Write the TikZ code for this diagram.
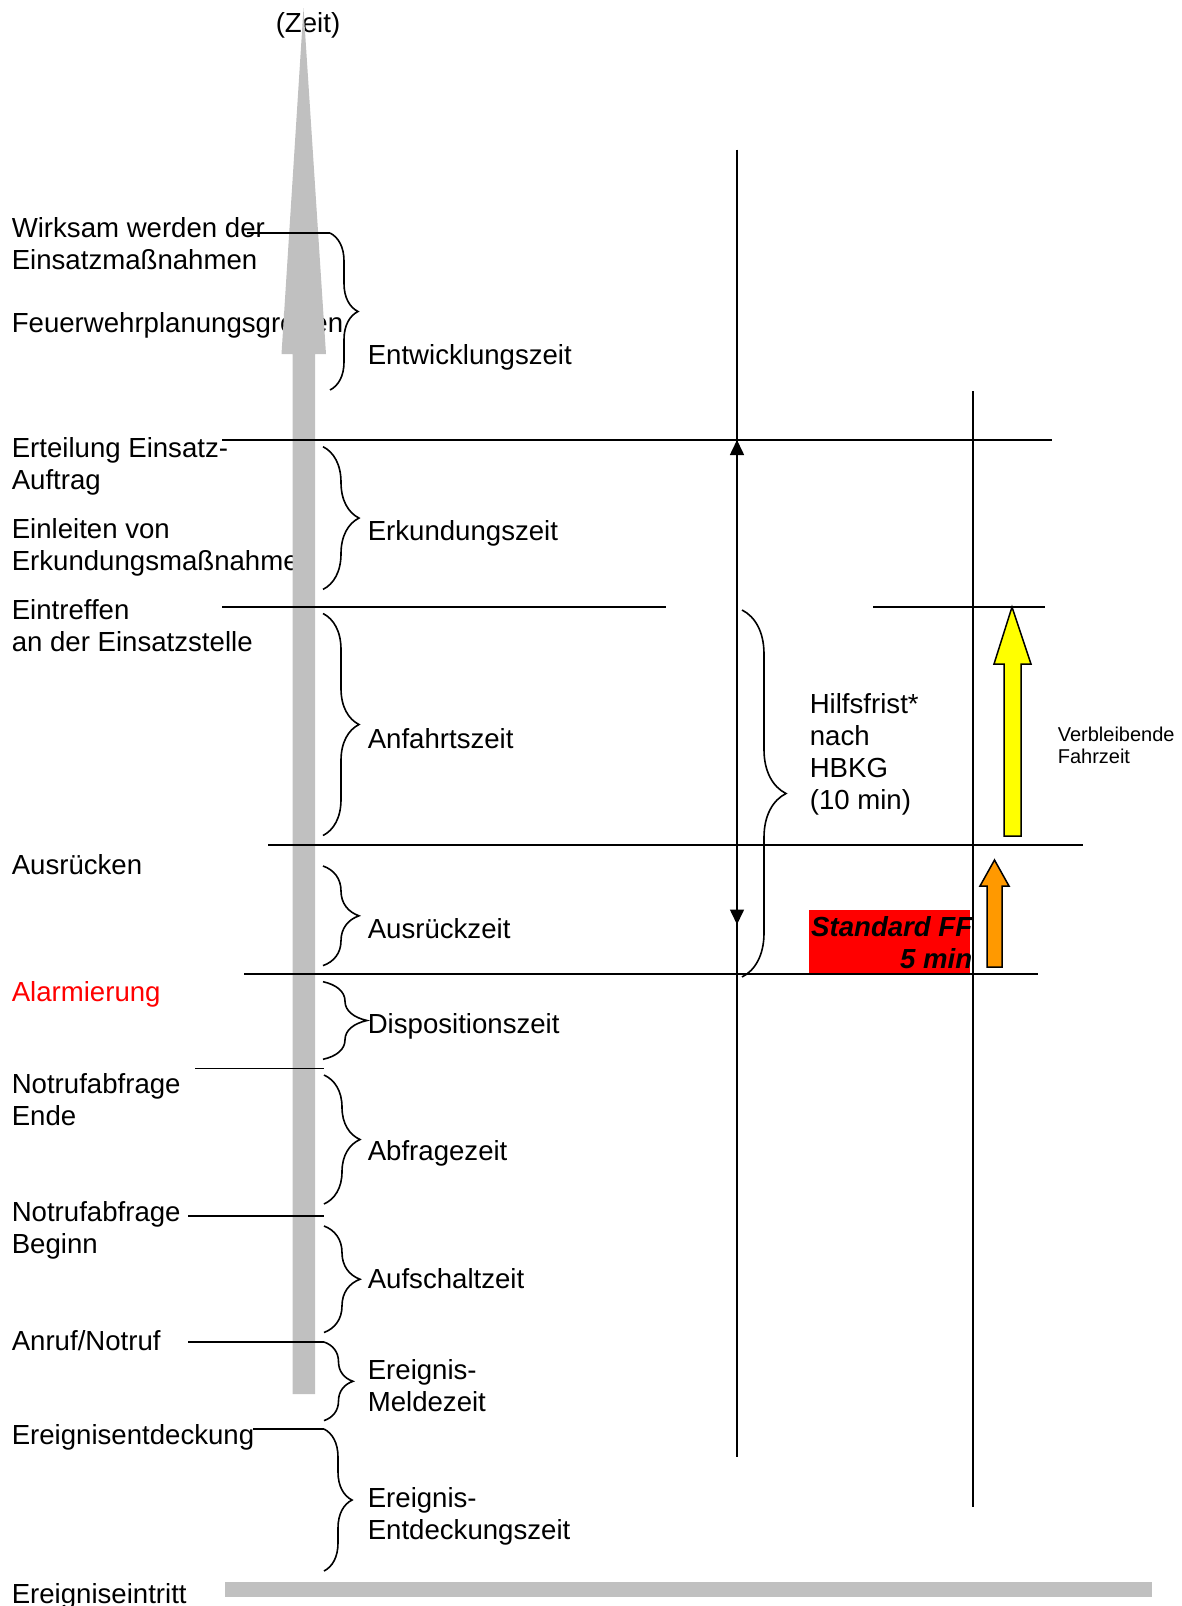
\documentclass[tikz,border=0pt]{standalone}
\usepackage{fontspec}
\setmainfont{Liberation Sans}
\usetikzlibrary{decorations.pathreplacing,arrows.meta}
\newcommand\lblfont{\fontsize{27.6}{32}\selectfont}
\newcommand\notefont{\fontsize{20}{22.3}\selectfont}
\definecolor{zeitgrau}{HTML}{C0C0C0}
\definecolor{ffgelb}{HTML}{FFFF00}
\definecolor{fforange}{HTML}{FF9900}
\tikzset{
  lbl/.style={anchor=north west, inner sep=0pt, align=left, font=\lblfont,
    execute at begin node=\strut, yshift=20.4pt},
  brc/.style={decorate, decoration={brace, amplitude=#1}}
}
\begin{document}
\begin{tikzpicture}[x=1pt,y=-1pt,line width=1.6pt,>={Triangle[length=15pt,width=14pt]}]
  \useasboundingbox (0,0) rectangle (1182,1606);
  % events (left column)
  \foreach \y/\txt [count=\i] in {236.7/{Wirksam werden der\\Einsatzmaßnahmen},
      330/{Feuerwehrplanungsgrößen}, 457.4/{Erteilung Einsatz-\\Auftrag},
      537.8/{Einleiten von\\Erkundungsmaßnahmen}, 619/{Eintreffen\\an der Einsatzstelle},
      871.9/{Ausrücken}, 1093.5/{Notrufabfrage\\Ende}, 1221/{Notrufabfrage\\Beginn},
      1348/{Anruf/Notruf}, 1441.4/{Ereignisentdeckung}, 1601/{Ereigniseintritt}}
    \node[lbl] (ev\i) at (11,\y) {\txt};
  \node[lbl, text=red] (alarm) at (11,999) {Alarmierung};
  \node[lbl, anchor=north] (zeit) at (308,30) {(Zeit)};
  % time axis
  \fill[zeitgrau] (292.5,1394) -- (292.5,354) -- (281.5,354) -- (303.5,8)
    -- (326,354) -- (315,354) -- (315,1394) -- cycle;
  \fill[zeitgrau] (225,1582) rectangle (1152,1597);
  % event lines
  \foreach \n/\y/\xa/\xb in {wirk/233/247/330, ert/440/222/1052, ein/607/222/666,
      ein2/607/873/1045, aus/845/268/1083, alm/974/244/1038, nre/1068.5/195/324,
      nrb/1216/188/324, anr/1342/188/324, ent/1429/253/324} {
    \coordinate (\n a) at (\xa,\y);
    \coordinate (\n b) at (\xb,\y);
    \draw (\n a) -- (\n b);
  }
  % phases
  \foreach \t/\b/\x/\a in {233/390/330/28, 446.7/589.4/323/36, 613.5/835.5/323/36,
      866/965.6/323/36, 981.7/1059.3/323/44, 1075/1204/324/36, 1226/1332.5/324/36,
      1342/1420.6/324/29, 1429/1571/324/28}
    \draw[brc=\a] (\x,\t) -- (\x,\b);
  \foreach \y/\txt [count=\i] in {361.5/{Entwicklungszeit}, 537.8/{Erkundungszeit},
      745.6/{Anfahrtszeit}, 935.8/{Ausrückzeit}, 1031/{Dispositionszeit},
      1157.7/{Abfragezeit}, 1285.3/{Aufschaltzeit}, 1378.8/{Ereignis-\\Meldezeit},
      1507/{Ereignis-\\Entdeckungszeit}}
    \node[lbl] (ph\i) at (367,\y) {\txt};
  % Hilfsfrist
  \coordinate (hfTop) at (737,149.5);
  \coordinate (hfBot) at (737,1457);
  \coordinate (hfUp) at (737,440);
  \coordinate (hfDn) at (737,924.5);
  \draw (hfTop) -- (hfBot);
  \draw[<->] (hfDn) -- (hfUp);
  \draw[brc=44] (742,610) -- (742,977);
  \node[lbl] (hf) at (809,713) {Hilfsfrist*\\nach\\HBKG\\(10 min)};
  % Fahrzeit
  \coordinate (fzTop) at (973,391);
  \coordinate (fzBot) at (973,1507);
  \draw (fzTop) -- (fzBot);
  \fill[red] (809,910) rectangle (970,973);
  \node[lbl, anchor=north east, align=right, font=\lblfont\bfseries\itshape]
    (ff) at (973,936) {Standard FF\\5 min};
  \filldraw[fill=ffgelb, line width=1.5pt] (1004,836) -- (1004,664) -- (994,664)
    -- (1012,607) -- (1031,664) -- (1021,664) -- (1021,836) -- cycle;
  \filldraw[fill=fforange, line width=1.5pt] (987,967) -- (987,886) -- (980,886)
    -- (994.5,860) -- (1009,886) -- (1002,886) -- (1002,967) -- cycle;
  \node[lbl, font=\notefont, yshift=-4.79pt] (vf) at (1057,741.7) {Verbleibende\\Fahrzeit};
\end{tikzpicture}
\end{document}
